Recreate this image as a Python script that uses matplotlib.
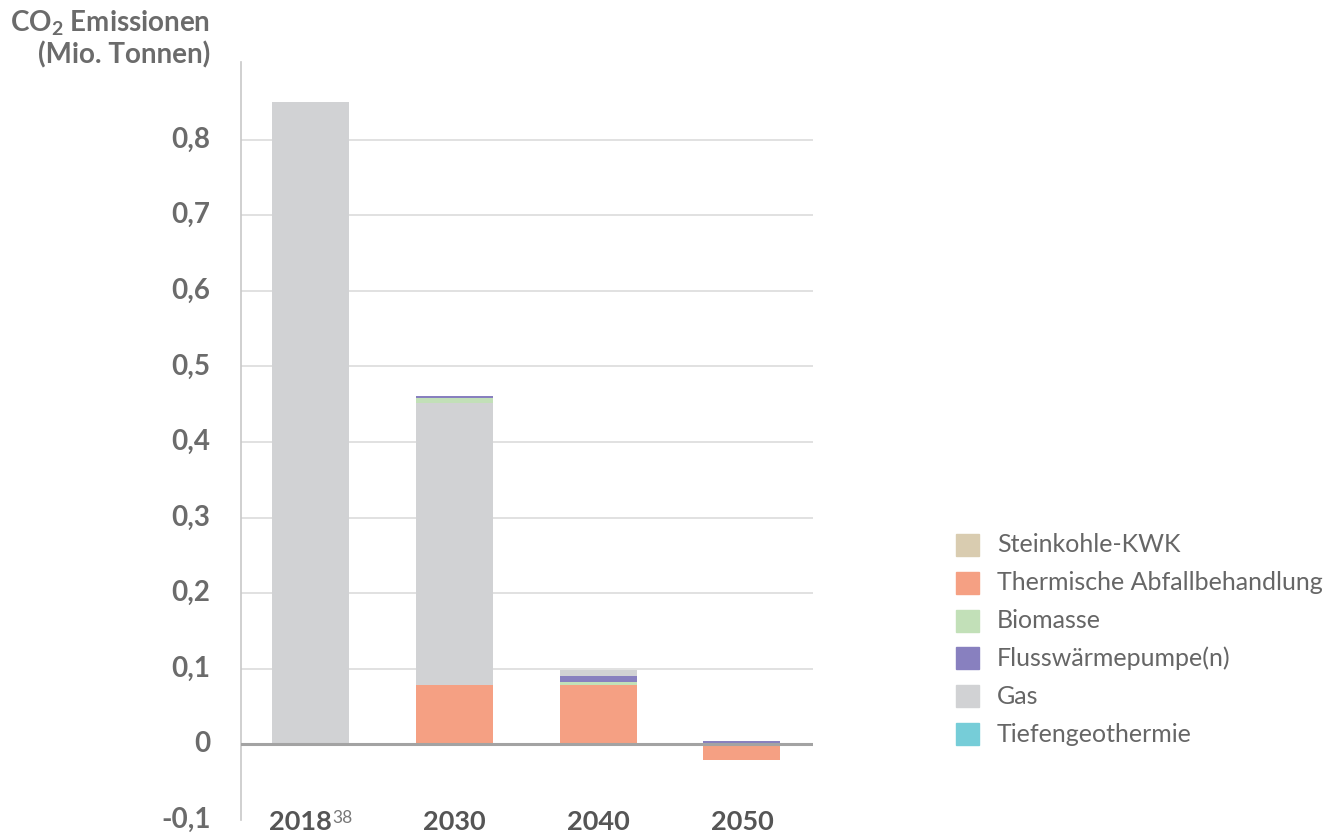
import matplotlib.pyplot as plt
import matplotlib.transforms as mtransforms
import numpy as np

# Werte (Mio. Tonnen CO2)
years = ["2018", "2030", "2040", "2050"]
steinkohle = [0.0, 0.0, 0.0, 0.0]
thermische = [0.0, 0.078, 0.078, -0.021]
biomasse = [0.0, 0.006, 0.004, 0.0]
fluss = [0.0, 0.003, 0.008, 0.004]
gas = [0.849, 0.374, 0.008, 0.0]
tiefen = [0.0, 0.0, 0.001, 0.0]

colors = {
    "Steinkohle-KWK": "#d9ccb0",
    "Thermische Abfallbehandlung": "#f5a083",
    "Biomasse": "#c2e0b8",
    "Flusswärmepumpe(n)": "#8880bf",
    "Gas": "#d1d2d4",
    "Tiefengeothermie": "#76cdd8",
}
series = {
    "Steinkohle-KWK": steinkohle,
    "Thermische Abfallbehandlung": thermische,
    "Biomasse": biomasse,
    "Flusswärmepumpe(n)": fluss,
    "Gas": gas,
    "Tiefengeothermie": tiefen,
}
# Stapelreihenfolge je Jahr (von unten)
stack_order = [
    ["Gas"],
    ["Thermische Abfallbehandlung", "Gas", "Biomasse", "Flusswärmepumpe(n)"],
    ["Thermische Abfallbehandlung", "Biomasse", "Tiefengeothermie", "Flusswärmepumpe(n)", "Gas"],
    ["Thermische Abfallbehandlung", "Flusswärmepumpe(n)"],
]

plt.rcParams['font.family'] = ['Lato', 'DejaVu Sans']
plt.rcParams['mathtext.fontset'] = 'custom'
plt.rcParams['mathtext.rm'] = 'Lato:bold'
plt.rcParams['mathtext.bf'] = 'Lato:bold'

fig = plt.figure(figsize=(13.32, 8.39), dpi=100)
ax = fig.add_axes([0.181, 0.0226, 0.429, 0.903])

x = np.arange(len(years))
width = 0.535
for i in range(len(years)):
    pos = 0.0
    neg = 0.0
    for name in stack_order[i]:
        v = series[name][i]
        if v >= 0:
            ax.bar(x[i], v, width, bottom=pos, color=colors[name], zorder=2)
            pos += v
        else:
            ax.bar(x[i], v, width, bottom=neg, color=colors[name], zorder=2)
            neg += v

ax.set_xlim(-0.48, 3.49)
ax.set_ylim(-0.1, 0.902)
yticks = [-0.1, 0, 0.1, 0.2, 0.3, 0.4, 0.5, 0.6, 0.7, 0.8]
ax.set_yticks(yticks)
ax.set_yticklabels([("%g" % t).replace(".", ",") for t in yticks],
                   fontsize=20, fontweight='bold', color='#6b6b6b')
for t in yticks[2:]:
    ax.axhline(t, color='#dcdcdc', lw=1.2, zorder=1)
ax.axhline(0, color='#a3a3a3', lw=2.2, zorder=3)

ax.set_xticks(x)
ax.set_xticklabels(years, fontsize=19.5, fontweight='bold', color='#555555')
ax.tick_params(axis='both', length=0)
ax.tick_params(axis='y', pad=22)
ax.tick_params(axis='x', pad=-7)
for lab in ax.get_yticklabels():
    lab.set_verticalalignment('center')

# 2018 etwas nach links, damit die Fußnote daneben passt
first = ax.get_xticklabels()[0]
first.set_transform(first.get_transform() +
                    mtransforms.ScaledTranslation(-10 / 100, 0, fig.dpi_scale_trans))

for s in ['top', 'right', 'bottom']:
    ax.spines[s].set_visible(False)
ax.spines['left'].set_color('#c8c8c8')
ax.spines['left'].set_linewidth(1.2)

# Fußnote 38
fig.text(332 / 1332, 0.019, "38", fontsize=12.5, color='#777777')

fig.text(0.158, 0.972, r"CO$_2$ Emissionen", fontsize=20, fontweight='bold',
         color='#6b6b6b', ha='right', va='center')
fig.text(0.158, 0.935, "(Mio. Tonnen)", fontsize=20, fontweight='bold',
         color='#6b6b6b', ha='right', va='center')

# Legende
legend_names = ["Steinkohle-KWK", "Thermische Abfallbehandlung", "Biomasse",
                "Flusswärmepumpe(n)", "Gas", "Tiefengeothermie"]
for k, name in enumerate(legend_names):
    yy = 1 - (545 + 37.8 * k) / 839
    fig.patches.append(plt.Rectangle((956 / 1332, yy - 11 / 839), 23 / 1332, 22 / 839,
                                     transform=fig.transFigure, color=colors[name]))
    fig.text(997 / 1332, yy, name, fontsize=18, color='#666666',
             va='center', ha='left')

fig.savefig("out.png", dpi=100)
